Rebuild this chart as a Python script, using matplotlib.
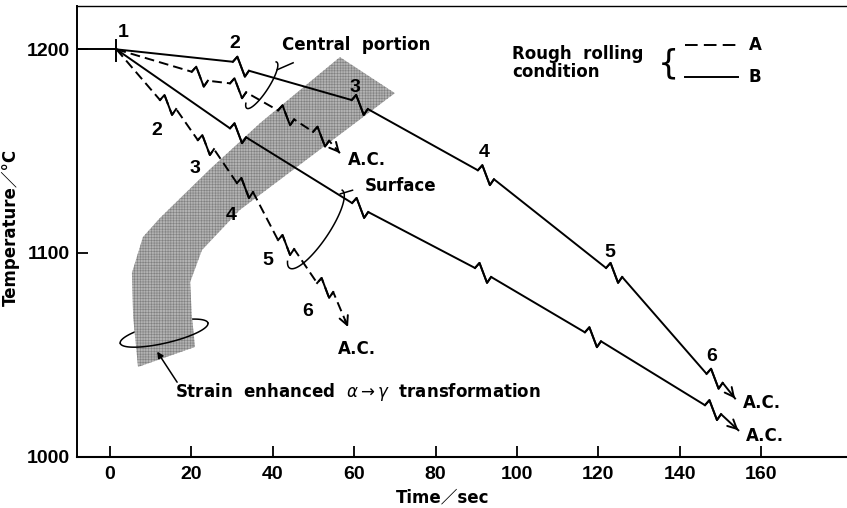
import numpy as np
import matplotlib
matplotlib.use('Agg')
import matplotlib.pyplot as plt

plt.rcParams['hatch.linewidth'] = 0.4

# ---- dati (t in s, T in degC) ----
start_t, start_T = 1.6, 1200.0

# B (linea continua), parte centrale
Bc_t = [30.2, 59.4, 90.4, 121.9, 146.6]
Bc_T = [1193.9, 1175.1, 1140.6, 1092.6, 1040.6]
Bc_end = (153.6, 1028.5)
# B, superficie
Bs_t = [29.5, 59.5, 89.7, 116.7, 146.2]
Bs_T = [1161.2, 1124.5, 1092.6, 1061.0, 1025.2]
Bs_end = (154.4, 1012.9)
# A (tratteggiata), parte centrale
Ac_t = [20.1, 29.5, 41.3, 49.9]
Ac_T = [1189.0, 1183.3, 1170.0, 1159.5]
Ac_end = (56.5, 1149.0)
# A, superficie
As_t = [12.3, 21.6, 31.2, 41.3, 50.9]
As_T = [1175.1, 1155.4, 1134.3, 1106.3, 1085.2]
As_end = (58.5, 1063.6)

# numeri dei passi
passB_lab = ['1', '2', '3', '4', '5', '6']
passB_t = [3.2, 30.7, 60.2, 91.9, 122.9, 147.9]
passB_T = [1208.5, 1203.1, 1181.5, 1149.5, 1100.0, 1048.9]
passA_lab = ['2', '3', '4', '5', '6']
passA_t = [11.5, 20.9, 29.9, 38.9, 48.7]
passA_T = [1160.3, 1141.5, 1118.6, 1096.5, 1071.0]

# banda grigia (trasformazione alfa->gamma)
band_out_t = [56.5, 36.9, 24.6, 12.3, 8.1, 5.4, 5.7, 6.9]
band_out_T = [1196.2, 1163.8, 1141.2, 1117.2, 1107.8, 1090.2, 1068.5, 1044.0]
band_in_t = [70.0, 45.9, 31.9, 22.6, 19.7, 20.1, 20.9]
band_in_T = [1178.5, 1142.2, 1121.1, 1101.4, 1085.7, 1069.5, 1053.8]

# zigzag di ogni passo (dt, dT)
JAG = [(1.1, 2.5), (1.85, -9.8), (1.0, 2.9)]

X_MIN, X_MAX = -8.1, 181.1
Y_MIN, Y_MAX = 1000, 1221.3

NUM = ['Liberation Sans', 'DejaVu Sans']
TXT = ['DejaVu Sans', 'Noto Sans CJK JP']

fig = plt.figure(figsize=(8.47, 5.08), dpi=100)
ax = fig.add_axes([77/847, 51.5/508, 770/847, 450.5/508])
ax.set_xlim(X_MIN, X_MAX)
ax.set_ylim(Y_MIN, Y_MAX)

def build(pt, pT, end):
    ts = [start_t]; Ts = [start_T]
    jags = []
    for t, T in zip(pt, pT):
        jt = [t]; jT = [T]
        for dt, dT in JAG:
            t += dt; T += dT
            jt.append(t); jT.append(T)
        ts += jt; Ts += jT
        jags.append((jt, jT))
    ts.append(end[0]); Ts.append(end[1])
    return ts, Ts, jags

def arrow_head(ts, Ts):
    x0, y0 = ts[-2], Ts[-2]
    x1, y1 = ts[-1], Ts[-1]
    ax.annotate('', xy=(x1, y1), xytext=(x1 - 0.2*(x1-x0), y1 - 0.2*(y1-y0)),
                arrowprops=dict(arrowstyle='->', lw=1.4, color='k',
                                mutation_scale=16, shrinkA=0, shrinkB=0), zorder=5)

dash = (0, (5, 2.6))
for pt, pT, end, ls in [(Bc_t, Bc_T, Bc_end, '-'), (Bs_t, Bs_T, Bs_end, '-'),
                        (Ac_t, Ac_T, Ac_end, dash), (As_t, As_T, As_end, dash)]:
    ts, Ts, jags = build(pt, pT, end)
    ax.plot(ts, Ts, color='k', lw=1.4, linestyle=ls, zorder=4)
    for jt, jT in jags:
        ax.plot(jt, jT, color='k', lw=1.4, zorder=4)
    arrow_head(ts, Ts)

# mantenimento a 1200 e segno del passo 1
ax.plot([X_MIN, start_t], [start_T, start_T], color='k', lw=1.4, zorder=4)
ax.plot([start_t, start_t], [start_T - 5.5, start_T + 4.5], color='k', lw=1.4, zorder=4)

# banda
poly_t = band_out_t + band_in_t[::-1]
poly_T = band_out_T + band_in_T[::-1]
ax.fill(poly_t, poly_T, facecolor='#b2b2b2', edgecolor='#808080', hatch='++++++',
        linewidth=0, zorder=2)

for lab, t, T in zip(passB_lab, passB_t, passB_T):
    ax.text(t, T, lab, family=NUM, fontweight='bold', fontsize=14, ha='center', va='center', zorder=6)
for lab, t, T in zip(passA_lab, passA_t, passA_T):
    ax.text(t, T, lab, family=NUM, fontweight='bold', fontsize=14, ha='center', va='center', zorder=6)

tk = dict(family=TXT, fontweight='bold', fontsize=12, ha='center', va='center', zorder=6)
ax.text(63.1, 1145.6, 'A.C.', **tk)
ax.text(60.7, 1053.0, 'A.C.', **tk)
ax.text(160.2, 1026.3, 'A.C.', **tk)
ax.text(161.0, 1010.0, 'A.C.', **tk)
ax.text(60.4, 1202.1, 'Central  portion', **tk)
ax.text(71.3, 1132.8, 'Surface', **tk)
ax.text(60.9, 1031.7, r'Strain  enhanced  $\alpha \rightarrow \gamma$  transformation', **tk)

# legenda
ax.text(98.8, 1193.5, 'Rough  rolling\ncondition', family=TXT, fontweight='bold',
        fontsize=12, ha='left', va='center', linespacing=1.0)
ax.text(137.3, 1193.0, '{', fontsize=24, ha='center', va='center')
ax.plot([141.3, 154.3], [1202.1, 1202.1], color='k', lw=1.4, linestyle=(0, (6.5, 3.2)))
ax.plot([141.3, 154.3], [1186.4, 1186.4], color='k', lw=1.4)
ax.text(158.5, 1202.1, 'A', **tk)
ax.text(158.5, 1186.4, 'B', **tk)

# ellissi e richiami (dimensioni in pixel)
def ell(tc, Tc, a, b, ang, th1, th2, **kw):
    cx, cy = ax.transData.transform((tc, Tc))
    th = np.radians(np.linspace(th1, th2, 120))
    g = np.radians(ang)
    x = cx + a*np.cos(th)*np.cos(g) - b*np.sin(th)*np.sin(g)
    y = cy + a*np.cos(th)*np.sin(g) + b*np.sin(th)*np.cos(g)
    d = ax.transData.inverted().transform(np.column_stack([x, y]))
    ax.plot(d[:, 0], d[:, 1], color='k', lw=1.1, **kw)

ell(37.3, 1182.4, 27.5, 7, 57, 5, -210, zorder=5)
ax.plot([45.0, 41.1], [1193.4, 1190.0], color='k', lw=1.1)
ell(50.6, 1111.7, 47, 13, 56, 0, -205, zorder=5)
ax.plot([59.6, 56.6], [1130.8, 1129.0], color='k', lw=1.1)
ell(13.3, 1060.6, 45, 10, 13, 0, 180, zorder=1)
ell(13.3, 1060.6, 45, 10, 13, 180, 360, zorder=5)
ax.annotate('', xy=(11.6, 1051.5), xytext=(16.5, 1036.5),
            arrowprops=dict(arrowstyle='-|>', lw=1.1, color='k', mutation_scale=9,
                            shrinkA=0, shrinkB=0), zorder=5)

# assi
ax.set_xticks([0, 20, 40, 60, 80, 100, 120, 140, 160])
ax.set_yticks([1000, 1100, 1200])
ax.tick_params(direction='in', length=8, width=1.3, pad=5)
ax.tick_params(axis='x', pad=7)
for lab in ax.get_xticklabels() + ax.get_yticklabels():
    lab.set_family(NUM)
    lab.set_fontweight('bold')
    lab.set_fontsize(14)
ax.spines['right'].set_visible(False)
ax.spines['left'].set_linewidth(1.4)
ax.spines['bottom'].set_linewidth(1.5)
ax.spines['top'].set_linewidth(1.0)

ax.set_xlabel('Time／sec', family=TXT, fontweight='bold', fontsize=12, labelpad=6)
ax.xaxis.set_label_coords(0.475, -0.07)
ax.set_ylabel('Temperature／°C', family=TXT, fontweight='bold', fontsize=12)
ax.yaxis.set_label_coords(-0.074, 0.508)

fig.savefig('out.png', dpi=100)
